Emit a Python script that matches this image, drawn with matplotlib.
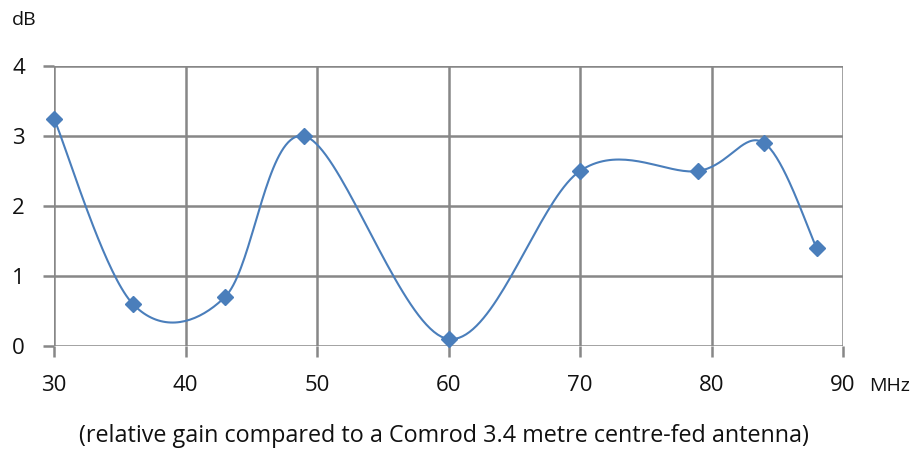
import numpy as np
import matplotlib
matplotlib.use('Agg')
import matplotlib.pyplot as plt

plt.rcParams['font.family'] = ['Open Sans', 'DejaVu Sans']

# gain readings
freq_mhz = [30, 36, 43, 49, 60, 70, 79, 84, 88]
gain_db = [3.25, 0.6, 0.7, 3.0, 0.1, 2.5, 2.5, 2.9, 1.4]
x_ticks = [30, 40, 50, 60, 70, 80, 90]
y_ticks = [0, 1, 2, 3, 4]

LINE = '#4a7ebb'
GRID = '#878787'


def smooth(xs, ys, steps=40):
    # excel style smoothed line: cubic bezier with catmull-rom control points
    p = np.column_stack([xs, ys]).astype(float)
    p = np.vstack([p[0], p, p[-1]])
    out = []
    t = np.linspace(0, 1, steps)[:, None]
    for i in range(1, len(p) - 2):
        p0, p1, p2, p3 = p[i - 1], p[i], p[i + 1], p[i + 2]
        c1 = p1 + (p2 - p0) / 6
        c2 = p2 - (p3 - p1) / 6
        seg = ((1 - t) ** 3) * p1 + 3 * ((1 - t) ** 2) * t * c1 + 3 * (1 - t) * t ** 2 * c2 + t ** 3 * p2
        out.append(seg)
    out = np.vstack(out)
    return out[:, 0], out[:, 1]


fig = plt.figure(figsize=(9.16, 4.5), dpi=100)
ax = fig.add_axes([54 / 916, 1 - 346 / 450, (843 - 54) / 916, (346 - 66) / 450])

sx, sy = smooth(freq_mhz, gain_db)
ax.plot(sx, sy, color=LINE, lw=1.5, zorder=3, clip_on=False)
ax.plot(freq_mhz, gain_db, ls='none', marker='D', ms=8.5, color=LINE, zorder=4, clip_on=False)

ax.set_xlim(30, 90)
ax.set_ylim(0, 4)
ax.set_xticks(x_ticks)
ax.set_yticks(y_ticks)
ax.grid(True, color=GRID, lw=1.8)
ax.set_axisbelow(True)
for s in ax.spines.values():
    s.set_visible(False)
ax.tick_params(axis='both', color=GRID, width=1.8, length=8, labelsize=16, labelcolor='#111111')
ax.tick_params(axis='x', pad=13)
ax.tick_params(axis='y', pad=13)

fig.text(12 / 916, 1 - 20 / 450, 'dB', fontsize=14, va='center', ha='left', color='#111111')
fig.text(869 / 916, 1 - 386 / 450, 'MHz', fontsize=14, va='center', ha='left', color='#111111')
fig.text(444 / 916, 1 - 436 / 450,
         '(relative gain compared to a Comrod 3.4 metre centre-fed antenna)',
         fontsize=16.8, va='center', ha='center', color='#111111')

fig.savefig('out.png', dpi=100)
